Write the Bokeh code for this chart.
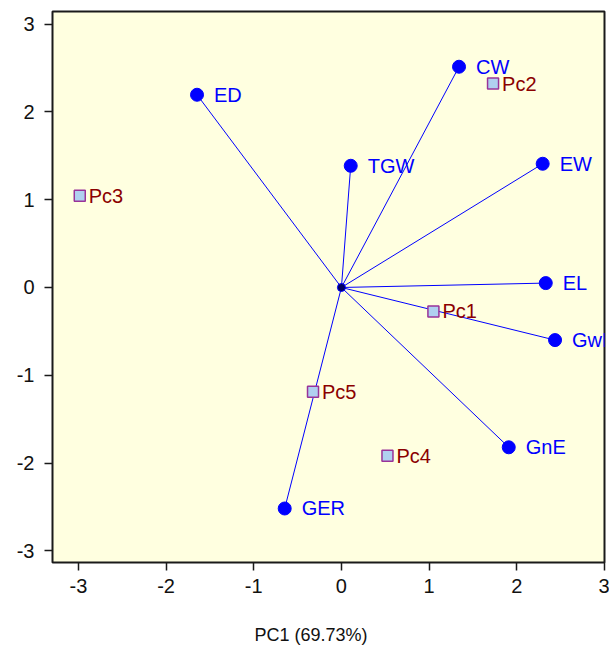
from bokeh.plotting import figure
from bokeh.models import Range1d, ColumnDataSource, PrintfTickFormatter, Title
from bokeh.embed import file_html
from bokeh.resources import INLINE
from bokeh.core.properties import value

# ---- data ----
var_names = ["ED", "CW", "TGW", "EW", "EL", "GwE", "GnE", "GER"]
var_x = [-1.647, 1.341, 0.106, 2.295, 2.330, 2.436, 1.908, -0.647]
var_y = [2.195, 2.514, 1.386, 1.409, 0.050, -0.599, -1.820, -2.517]

pc_names = ["Pc1", "Pc2", "Pc3", "Pc4", "Pc5"]
pc_x = [1.049, 1.729, -2.984, 0.525, -0.324]
pc_y = [-0.273, 2.323, 1.044, -1.917, -1.188]

x_ticks = [-3, -2, -1, 0, 1, 2, 3]
y_ticks = [-3, -2, -1, 0, 1, 2, 3]
x_label = "PC1 (69.73%)"

FONT = "Liberation Sans"
X0, X1 = -3.295, 3.0
Y0, Y1 = -3.132, 3.143

p = figure(width=609, height=647, output_backend="svg", toolbar_location=None,
           x_range=Range1d(X0, X1), y_range=Range1d(Y0, Y1),
           min_border_left=52, min_border_right=5, min_border_top=11,
           min_border_bottom=85)

p.background_fill_color = "#FFFFE0"
p.border_fill_color = "white"
p.outline_line_color = "#1a1a1a"
p.outline_line_width = 2
p.grid.visible = False

for ax in (p.xaxis[0], p.yaxis[0]):
    ax.axis_line_color = None
    ax.major_tick_in = 0
    ax.major_tick_out = 8
    ax.major_tick_line_color = "#1a1a1a"
    ax.major_tick_line_width = 1.5
    ax.minor_tick_line_color = None
    ax.major_label_text_font = FONT
    ax.major_label_text_font_size = "20px"
    ax.major_label_text_color = "#111111"
    ax.formatter = PrintfTickFormatter(format="%d")
p.xaxis.ticker = x_ticks
p.yaxis.ticker = y_ticks
p.xaxis.major_label_standoff = 8
p.yaxis.major_label_standoff = 10

# x axis title (off-centre and low, as in the reference)
p.add_layout(Title(text=x_label, align="left", offset=202, text_font=FONT,
                   text_font_size="18px", text_font_style="normal",
                   text_color="#111111", standoff=0, padding=(0, 0, 27, 0)), "below")

# vectors
vsrc = ColumnDataSource(dict(x0=[0] * len(var_x), y0=[0] * len(var_y),
                             x=var_x, y=var_y, name=var_names))
p.segment(x0="x0", y0="y0", x1="x", y1="y", source=vsrc,
          line_color="#0000FF", line_width=1)
p.scatter(x="x", y="y", source=vsrc, size=13, marker="circle",
          fill_color="#0000FF", line_color="#0000FF")
p.scatter(x=[0], y=[0], size=8, marker="circle",
          fill_color="#000060", line_color="#0000FF", line_width=1)
p.text(x="x", y="y", text="name", source=vsrc, x_offset=17, y_offset=0,
       text_font=value(FONT), text_font_size="20px", text_color="#0000FF",
       text_baseline="alphabetic", text_align="left")

# PC points
psrc = ColumnDataSource(dict(x=pc_x, y=pc_y, name=pc_names))
p.scatter(x="x", y="y", source=psrc, size=11, marker="square",
          fill_color="#B0D0F0", line_color="#993399", line_width=1.5)
p.text(x="x", y="y", text="name", source=psrc, x_offset=9, y_offset=0,
       text_font=value(FONT), text_font_size="20px", text_color="#8B0000",
       text_baseline="alphabetic", text_align="left")

open("out.html", "w").write(file_html(p, INLINE))
